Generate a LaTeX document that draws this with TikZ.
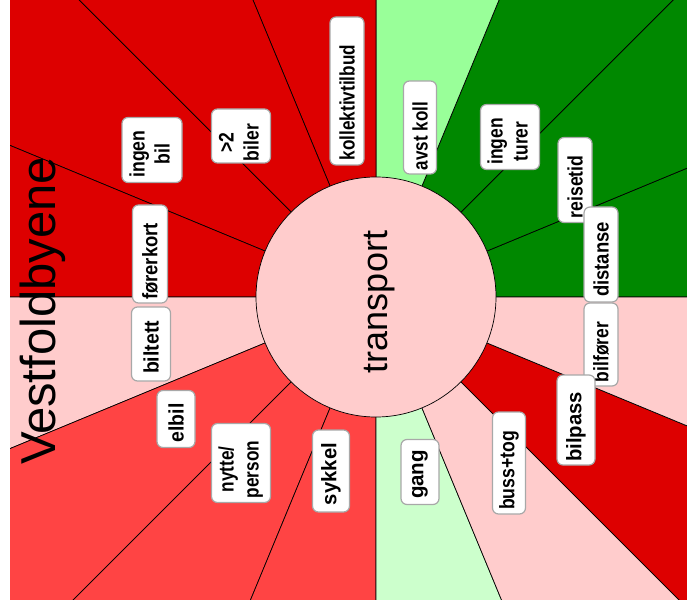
\documentclass[tikz,border=0pt]{standalone}
\usepackage{graphicx}
\usepackage{fontspec}
\setmainfont{Liberation Sans}
\definecolor{dkgreen}{HTML}{008800}
\definecolor{palegr}{HTML}{99FF99}
\definecolor{ltgreen}{HTML}{CCFFCC}
\definecolor{redc}{HTML}{DD0000}
\definecolor{pinkc}{HTML}{FFCCCC}
\definecolor{medred}{HTML}{FF4444}
\definecolor{labgray}{HTML}{A8A8A8}
% #1 scale, #2 trailing gap, #3 text
\newcommand{\sq}[3]{\scalebox{#1}[1]{#3}\hspace*{#2pt}}
\newcommand{\twol}[4]{\scalebox{#1}[1]{\begin{tabular}{@{}c@{}}#3\\#4\end{tabular}}\hspace*{#2pt}}
\begin{document}
\begin{tikzpicture}[x=1pt,y=1pt,
  lab/.style={draw=labgray, line width=1.2pt, fill=white, rounded corners=6pt,
    rotate=90, align=center, inner sep=1pt,
    font=\bfseries\fontsize{21}{25}\selectfont},
  wedgeline/.style={draw=black, line width=0.7pt}]
\useasboundingbox (0,0) rectangle (687,606);
\coordinate (C) at (376,309);
\begin{scope}
  \clip (10,7) rectangle (687,606);
  \foreach \a/\c in {0/dkgreen,22.5/dkgreen,45/dkgreen,67.5/palegr,
                     90/redc,112.5/redc,135/redc,157.5/redc,
                     180/pinkc,202.5/medred,225/medred,247.5/medred,
                     270/ltgreen,292.5/pinkc,315/redc,337.5/pinkc}{
    \filldraw[fill=\c, wedgeline] (C) -- +(\a:1000) -- +(\a+22.5:1000) -- cycle;
  }
\end{scope}
\node[circle, draw=black, line width=0.7pt, fill=pinkc, minimum size=240pt, inner sep=0pt] (hub) at (C) {};
\node[anchor=base, rotate=90, font=\fontsize{36}{40}\selectfont] (hubtxt) at (387,304) {transport};
% labels
\node[lab, minimum width=148, minimum height=34] (kol) at (347,515) {\sq{0.816}{23}{kollektivtilbud}};
\node[lab, minimum width=54, minimum height=59] (biler) at (241,470) {\twol{0.835}{13}{>2}{biler}};
\node[lab, minimum width=65, minimum height=60] (ingenbil) at (152,456) {\twol{0.84}{8}{ingen}{bil}};
\node[lab, minimum width=98, minimum height=35] (forer) at (150,352) {\sq{0.879}{15}{førerkort}};
\node[lab, minimum width=74, minimum height=39] (biltett) at (151,262) {\sq{0.927}{7}{biltett}};
\node[lab, minimum width=57, minimum height=38] (elbil) at (176,187) {\sq{0.927}{8}{elbil}};
\node[lab, minimum width=79, minimum height=59] (nytte) at (241,143) {\twol{0.82}{13}{nytte/}{person}};
\node[lab, minimum width=82, minimum height=37] (sykkel) at (331,135) {\sq{0.966}{6}{sykkel}};
\node[lab, minimum width=65, minimum height=38] (gang) at (420,134) {\sq{0.976}{5}{gang}};
\node[lab, minimum width=102, minimum height=33] (buss) at (509,143) {\sq{0.84}{15}{buss+tog}};
\node[lab, minimum width=83, minimum height=34] (bilforer) at (601,261.5) {\sq{0.83}{15}{bilfører}};
\node[lab, minimum width=90, minimum height=38] (bilpass) at (576,186) {\sq{0.966}{14}{bilpass}};
\node[lab, minimum width=85, minimum height=34] (reise) at (575,426) {\sq{0.84}{14}{reisetid}};
\node[lab, minimum width=95, minimum height=34] (dist) at (601,351.5) {\sq{0.879}{10}{distanse}};
\node[lab, minimum width=65, minimum height=59] (turer) at (510,469) {\twol{0.83}{9}{ingen}{turer}};
\node[lab, minimum width=93, minimum height=33] (avst) at (420,478.5) {\sq{0.81}{17}{avst koll}};
% title
\node[anchor=base, rotate=90, font=\fontsize{49}{55}\selectfont] (title) at (55,295) {Vestfoldbyene};
\end{tikzpicture}
\end{document}
